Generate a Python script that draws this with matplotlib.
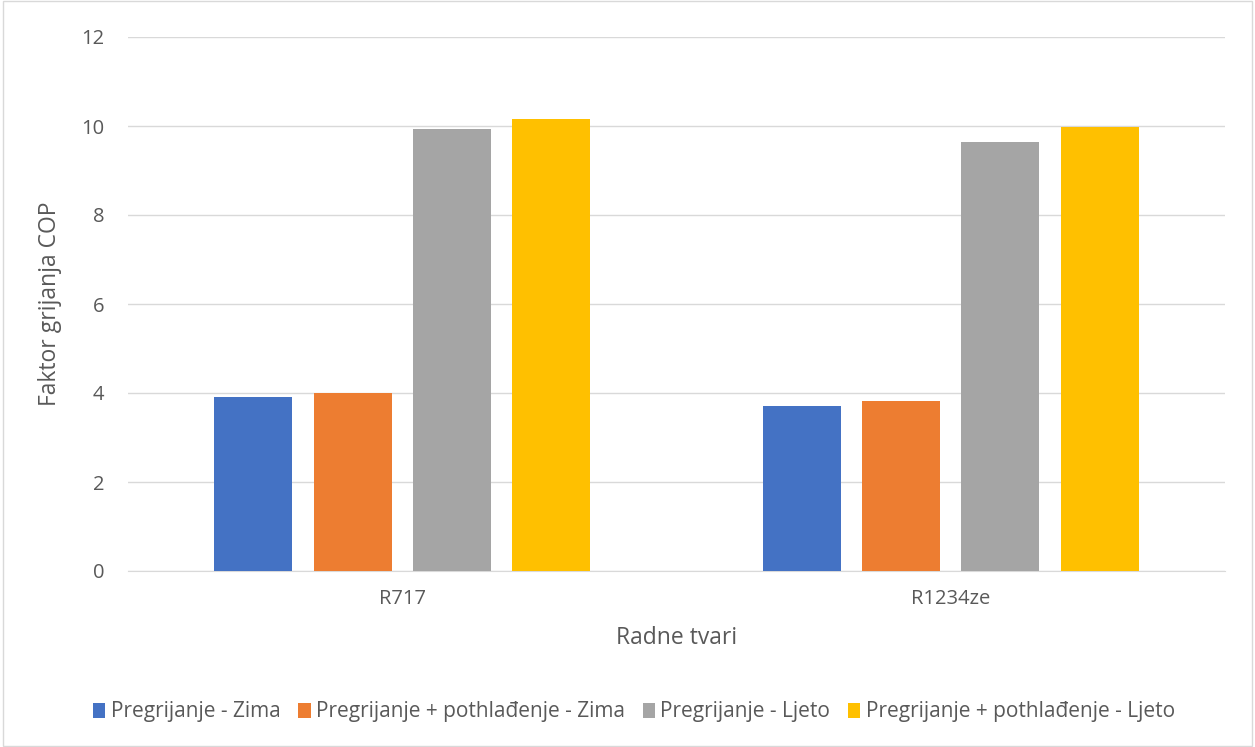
import matplotlib.pyplot as plt
import numpy as np
from matplotlib.patches import Rectangle

categories = ["R717", "R1234ze"]
series_names = [
    "Pregrijanje - Zima",
    "Pregrijanje + pothlađenje - Zima",
    "Pregrijanje - Ljeto",
    "Pregrijanje + pothlađenje - Ljeto",
]
values = [
    [3.92, 3.70],
    [4.00, 3.82],
    [9.93, 9.64],
    [10.15, 9.98],
]
colors = ["#4472C4", "#ED7D31", "#A5A5A5", "#FFC000"]
text_color = "#595959"

plt.rcParams["font.family"] = ["Open Sans", "DejaVu Sans"]

fig = plt.figure(figsize=(12.55, 7.47), dpi=100)
ax = fig.add_axes([128 / 1255, 1 - 571 / 747, 1097 / 1255, 534 / 747])

x = np.arange(len(categories))
width = 0.142
step = 0.181
for i, (name, vals, c) in enumerate(zip(series_names, values, colors)):
    ax.bar(x + (i - 1.5) * step, vals, width, color=c, label=name, zorder=3)

ax.set_xlim(-0.5, 1.5)
ax.set_ylim(0, 12)
ax.set_yticks(range(0, 13, 2))
ax.set_xticks(x)
ax.set_xticklabels(categories)
ax.grid(axis="y", color="#D9D9D9", linewidth=1, zorder=0)
for s in ["top", "right", "left"]:
    ax.spines[s].set_visible(False)
ax.spines["bottom"].set_color("#D9D9D9")
ax.tick_params(axis="both", length=0, labelsize=14.5, colors=text_color)
ax.tick_params(axis="x", pad=13)
ax.tick_params(axis="y", pad=17)

ax.set_xlabel("Radne tvari", fontsize=16.5, color=text_color, labelpad=12)
ax.set_ylabel("Faktor grijanja COP", fontsize=16.5, color=text_color, labelpad=14)

leg = fig.legend(loc="center", bbox_to_anchor=(0.505, 1 - 712 / 747), ncol=4,
                 frameon=False, fontsize=15, handlelength=0.6, handleheight=0.7,
                 handletextpad=0.25, columnspacing=0.85)
for t in leg.get_texts():
    t.set_color(text_color)

fig.patches.append(Rectangle((0.002, 0.002), 0.996, 0.996, transform=fig.transFigure,
                             fill=False, edgecolor="#D9D9D9", linewidth=1))

fig.savefig("out.png", dpi=100)
